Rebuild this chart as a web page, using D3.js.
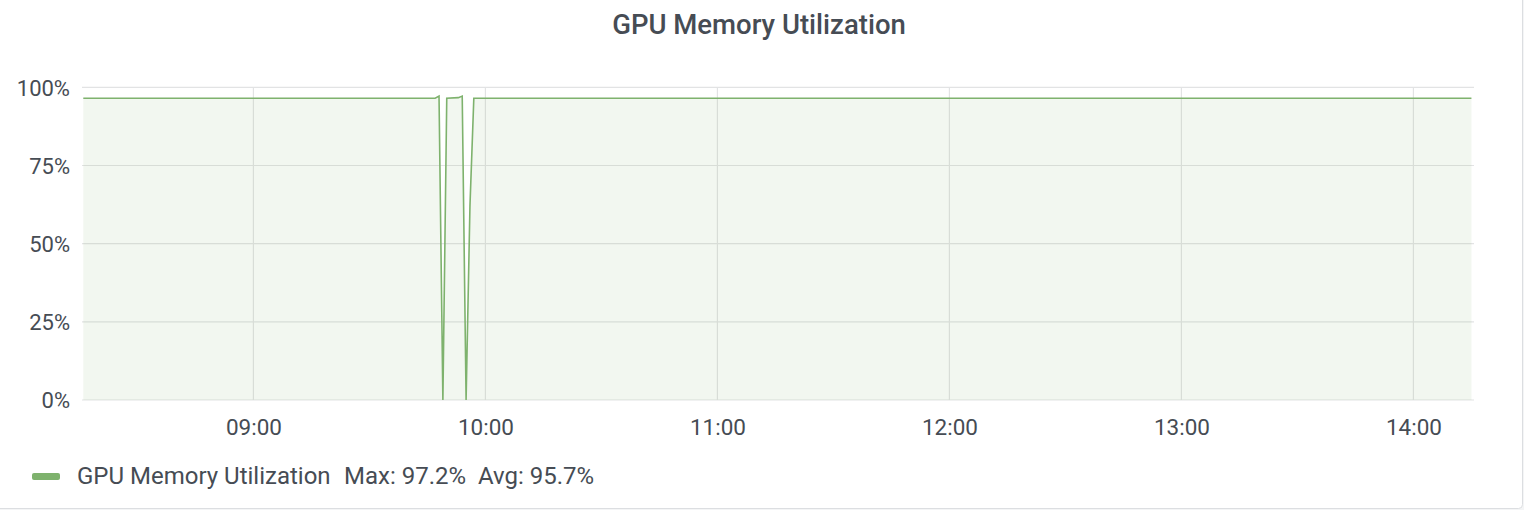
<!DOCTYPE html>
<html>
<head>
<meta charset="utf-8">
<script src="https://cdn.jsdelivr.net/npm/d3@7"></script>
<style>
  html, body { margin: 0; padding: 0; background: #f4f5f6; }
  svg { display: block; }
  text { font-family: Roboto, "Noto Sans", sans-serif; fill: #464c54; }
</style>
</head>
<body>
<svg id="chart" width="1524" height="510"></svg>
<script>
// ---- data ----
const title = "GPU Memory Utilization";
const seriesName = "GPU Memory Utilization";
const timeDomain = ["08:15:40", "14:15:40"];
const times = ["08:16", "09:47", "09:48", "09:49", "09:50", "09:53", "09:54", "09:55", "09:56", "09:57", "14:15"];
const values = [96.5, 96.5, 97.2, 0, 96.5, 96.7, 97.2, 0, 62, 96.5, 96.5];
const yTicks = [0, 25, 50, 75, 100];
const xTicks = ["09:00", "10:00", "11:00", "12:00", "13:00", "14:00"];
const legendStats = ["Max: 97.2%", "Avg: 95.7%"];

// ---- setup ----
const parse = d3.timeParse("%Y-%m-%d %H:%M:%S");
const toDate = s => parse("2024-01-01 " + (s.length === 5 ? s + ":00" : s));
const data = times.map((t, i) => ({ t: toDate(t), v: values[i] }));

const svg = d3.select("#chart");

// panel
svg.append("rect").attr("x", -4).attr("y", -4).attr("width", 1526.5).attr("height", 512.5)
  .attr("rx", 4).attr("fill", "#ffffff").attr("stroke", "#dcdee1").attr("stroke-width", 1);

const x = d3.scaleTime().domain(timeDomain.map(toDate)).range([82, 1474]);
const y = d3.scaleLinear().domain([0, 100]).range([400, 87.3]);

// title
svg.append("text").attr("x", 759).attr("y", 34).attr("text-anchor", "middle")
  .attr("font-size", 27.5).attr("font-weight", 500).style("fill", "#464c54").text(title);

// grid
const g = svg.append("g");
g.selectAll(".hg").data(yTicks).join("line")
  .attr("x1", 82).attr("x2", 1474).attr("y1", d => y(d)).attr("y2", d => y(d))
  .attr("stroke", "#e2e3e4").attr("stroke-width", 1.2);
g.selectAll(".vg").data(xTicks).join("line")
  .attr("x1", d => x(toDate(d))).attr("x2", d => x(toDate(d)))
  .attr("y1", y(100)).attr("y2", y(0))
  .attr("stroke", "#e2e3e4").attr("stroke-width", 1.2);

// area + line
const area = d3.area().x(d => x(d.t)).y0(y(0)).y1(d => y(d.v));
const line = d3.line().x(d => x(d.t)).y(d => y(d.v));
svg.append("path").datum(data).attr("d", area).attr("fill", "#7EB26D").attr("fill-opacity", 0.1);
svg.append("path").datum(data).attr("d", line).attr("fill", "none")
  .attr("stroke", "#7EB26D").attr("stroke-width", 1.6).attr("stroke-linejoin", "miter");

// axes
const yAxis = d3.axisLeft(y).tickValues(yTicks).tickFormat(d => d + "%").tickSize(0).tickPadding(0);
const ya = svg.append("g").attr("transform", "translate(70,0)").call(yAxis);
ya.select(".domain").remove();
ya.selectAll("text").attr("font-size", 22).attr("dy", "0.35em").style("fill", "#464c54")
  .attr("font-family", "Roboto, sans-serif");

const xAxis = d3.axisBottom(x).tickValues(xTicks.map(toDate)).tickFormat(d3.timeFormat("%H:%M")).tickSize(0).tickPadding(0);
const xa = svg.append("g").attr("transform", "translate(0,434.5)").call(xAxis);
xa.select(".domain").remove();
xa.selectAll("text").attr("font-size", 22.5).attr("dy", "0").style("fill", "#464c54")
  .attr("font-family", "Roboto, sans-serif");

// legend
svg.append("rect").attr("x", 32).attr("y", 473).attr("width", 28).attr("height", 7).attr("rx", 2)
  .attr("fill", "#7EB26D");
const lt = svg.append("text").attr("x", 77).attr("y", 484).attr("font-size", 24);
lt.append("tspan").text(seriesName);
lt.append("tspan").attr("x", 344).text(legendStats[0]);
lt.append("tspan").attr("x", 478).text(legendStats[1]);
</script>
</body>
</html>
